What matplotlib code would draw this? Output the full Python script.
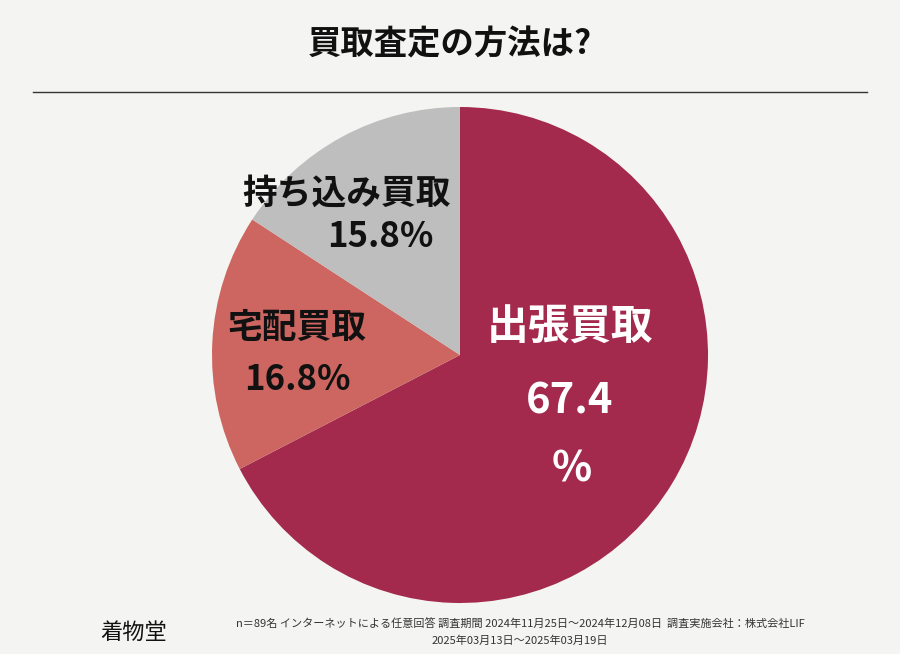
import matplotlib
matplotlib.use("Agg")
import matplotlib.pyplot as plt

plt.rcParams['font.family'] = ['Noto Sans CJK JP', 'DejaVu Sans']

labels = ["出張買取", "宅配買取", "持ち込み買取"]
values = [67.4, 16.8, 15.8]
colors = ["#A3294D", "#CD6660", "#BEBEBE"]

W, H = 900, 654
fig = plt.figure(figsize=(9, 6.54), dpi=100)
fig.patch.set_facecolor("#F4F4F2")

fig.text(0.5, 1 - 45 / H, "買取査定の方法は?", ha="center", va="center",
         fontsize=24, fontweight="bold", color="#111111")
fig.add_artist(plt.Line2D([33 / W, 867 / W], [1 - 92 / H] * 2, color="#333333", lw=1))

cx, cy, r = 460, 355, 248
ax = fig.add_axes([(cx - r) / W, 1 - (cy + r) / H, 2 * r / W, 2 * r / H])
ax.pie(values, colors=colors, startangle=90, counterclock=False, radius=1)
ax.set_xlim(-1, 1)
ax.set_ylim(-1, 1)
ax.set_aspect("equal")
ax.axis("off")

def px(x, y, s, size, color, ha="center"):
    fig.text(x / W, 1 - y / H, s, ha=ha, va="center", fontsize=size,
             color=color, fontweight="bold")

px(570, 328, labels[0], 30, "white")
px(570, 402, f"{values[0]}", 30, "white")
px(572, 470, "%", 30, "white")
px(297, 327, labels[1], 25, "#111111")
px(297, 380, f"{values[1]}%", 25, "#111111")
px(347, 193, labels[2], 25, "#111111")
px(380, 237, f"{values[2]}%", 25, "#111111")

fig.text(100 / W, 1 - 632 / H, "着物堂", ha="left", va="center", fontsize=16, color="#111111")
fig.text(520 / W, 1 - 623 / H,
         "n＝89名 インターネットによる任意回答 調査期間 2024年11月25日～2024年12月08日  調査実施会社：株式会社LIF",
         ha="center", va="center", fontsize=8, color="#333333")
fig.text(520 / W, 1 - 641 / H, "2025年03月13日～2025年03月19日",
         ha="center", va="center", fontsize=8, color="#333333")

fig.savefig("out.png", dpi=100, facecolor=fig.get_facecolor())
